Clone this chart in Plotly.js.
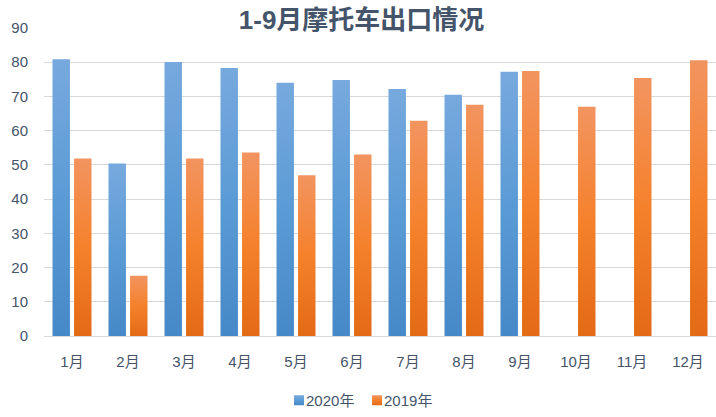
<!DOCTYPE html>
<html>
<head>
<meta charset="utf-8">
<script src="https://cdn.plot.ly/plotly-3.0.1.min.js"></script>
<style>
  html, body { margin: 0; padding: 0; background: #fff; }
  #chart { width: 716px; height: 417px; }
</style>
</head>
<body>
<div id="chart"></div>
<script>
// --- data ---
const months = ['1月', '2月', '3月', '4月', '5月', '6月', '7月', '8月', '9月', '10月', '11月', '12月'];
const exports2020 = [80.9, 50.4, 80.1, 78.3, 74.0, 74.8, 72.2, 70.5, 77.2, null, null, null];
const exports2019 = [51.9, 17.6, 51.9, 53.6, 47.0, 53.0, 62.9, 67.6, 77.4, 67.0, 75.4, 80.6];
const seriesNames = ['2020年', '2019年'];

const textColor = '#44546A';
const gridColor = '#D9D9D9';
const fontFamily = 'Liberation Sans, "Noto Sans CJK SC", sans-serif';

// top / middle / bottom stops of the Excel-like gradient fill
const gradients = [
    ['#77A9DE', '#5B9BD5', '#4689C8'],
    ['#F29460', '#F5812C', '#E36A17']
];

const traces = [
    {
        x: months, y: exports2020, type: 'bar', name: seriesNames[0],
        marker: { color: gradients[0][1] }
    },
    {
        x: months, y: exports2019, type: 'bar', name: seriesNames[1],
        marker: { color: gradients[1][1] }
    }
];

const layout = {
    width: 716,
    height: 417,
    margin: { l: 44, r: 0, t: 28, b: 79 },
    paper_bgcolor: '#fff',
    plot_bgcolor: '#fff',
    font: { family: fontFamily, color: textColor, size: 15 },
    title: {
        text: '<b>1-9月摩托车出口情况</b>',
        font: { family: fontFamily, size: 26, color: textColor },
        x: 0.505, xanchor: 'center',
        y: 0.952, yanchor: 'middle'
    },
    barmode: 'group',
    bargap: 0.23,
    bargroupgap: 0.19,
    xaxis: {
        type: 'category',
        showgrid: false,
        showline: true,
        linecolor: gridColor,
        linewidth: 1,
        ticks: '',
        tickfont: { size: 15, color: textColor },
        ticklabelstandoff: 12
    },
    yaxis: {
        range: [0, 90],
        dtick: 10,
        showgrid: true,
        gridcolor: gridColor,
        gridwidth: 1,
        zeroline: false,
        showline: false,
        ticks: '',
        tickfont: { size: 15, color: textColor },
        ticklabelstandoff: 15
    },
    showlegend: true,
    legend: {
        orientation: 'h',
        x: 0.3304, xanchor: 'left',
        y: -0.21, yanchor: 'middle',
        font: { size: 15, color: textColor },
        itemgap: 0,
        traceorder: 'normal'
    }
};

const config = { displayModeBar: false, staticPlot: true };

const legendSpacing = 78;   // px between the two legend entries

// paint the bars with vertical gradients once Plotly has drawn them
function applyGradients(gd) {
    const svg = gd.querySelector('svg.main-svg');
    const defs = svg.querySelector('defs');
    const ns = 'http://www.w3.org/2000/svg';

    gradients.forEach((stops, i) => {
        const grad = document.createElementNS(ns, 'linearGradient');
        grad.setAttribute('id', 'barGrad' + i);
        grad.setAttribute('x1', '0'); grad.setAttribute('y1', '0');
        grad.setAttribute('x2', '0'); grad.setAttribute('y2', '1');
        [[0, stops[0]], [0.5, stops[1]], [1, stops[2]]].forEach(([off, col]) => {
            const s = document.createElementNS(ns, 'stop');
            s.setAttribute('offset', off);
            s.setAttribute('stop-color', col);
            grad.appendChild(s);
        });
        defs.appendChild(grad);
    });

    gd.querySelectorAll('.barlayer .trace').forEach((tr, i) => {
        tr.querySelectorAll('path').forEach(p => { p.style.fill = 'url(#barGrad' + i + ')'; });
    });

    // smaller legend squares, sitting close to their text like the original
    gd.querySelectorAll('.legend .traces').forEach((tr, i) => {
        const m = /translate\(\s*[-\d.]+\s*,\s*([-\d.]+)\s*\)/.exec(tr.getAttribute('transform') || '');
        const ty = m ? m[1] : 0;
        tr.setAttribute('transform', 'translate(' + (i * legendSpacing) + ',' + ty + ')');
        tr.querySelectorAll('.legendpoints path').forEach(p => {
            p.style.fill = 'url(#barGrad' + i + ')';
            p.style.stroke = 'none';
            p.setAttribute('d', 'M5,5H-5V-5H5Z');
            p.setAttribute('transform', 'translate(33,0)');
        });
    });
}

const gd = document.getElementById('chart');
Plotly.newPlot(gd, traces, layout, config).then(applyGradients);
</script>
</body>
</html>
